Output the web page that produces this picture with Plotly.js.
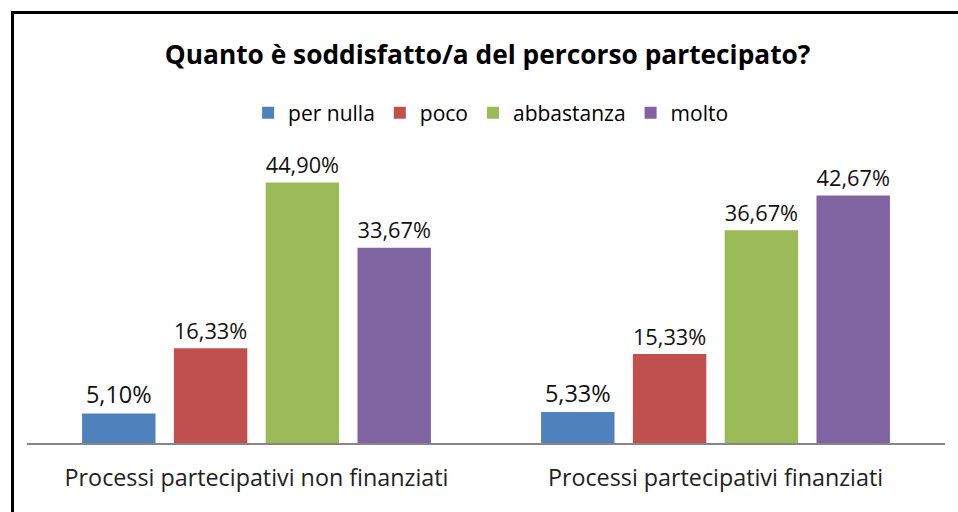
<!DOCTYPE html>
<html><head><meta charset="utf-8">
<script src="https://cdn.plot.ly/plotly-3.0.1.min.js"></script>
<style>
html,body{margin:0;padding:0;background:#fff;}
#wrap{position:absolute;left:0;top:0;width:958px;height:512px;overflow:hidden;}
#frame{position:absolute;left:11px;top:11px;width:1000px;height:600px;border-left:3px solid #000;border-top:3px solid #000;pointer-events:none;}
#chart{position:absolute;left:0;top:0;width:958px;height:512px;}
</style></head>
<body><div id="wrap"><div id="chart"></div><div id="frame"></div></div>
<script>
const categories = ["Processi partecipativi non finanziati", "Processi partecipativi finanziati"];
const seriesNames = ["per nulla", "poco", "abbastanza", "molto"];
const perNulla = [5.10, 5.33];
const poco = [16.33, 15.33];
const abbastanza = [44.90, 36.67];
const molto = [33.67, 42.67];
const colors = ["#4F81BD", "#C0504D", "#9BBB59", "#8064A2"];
const allValues = [perNulla, poco, abbastanza, molto];

const fmt = v => v.toFixed(2).replace('.', ',') + '%';
const FONT = "Open Sans, Liberation Sans, sans-serif";

const traces = allValues.map((vals, i) => ({
  type: 'bar',
  name: seriesNames[i],
  x: categories,
  y: vals,
  text: vals.map(fmt),
  textposition: 'outside',
  textfont: {family: FONT, size: 23.5, color: '#111'},
  cliponaxis: false,
  marker: {color: colors[i]},
  hoverinfo: 'none'
}));

const layout = {
  width: 958, height: 512,
  margin: {l: 27, r: 13, t: 153, b: 69},
  paper_bgcolor: '#fff', plot_bgcolor: '#fff',
  barmode: 'group', bargap: 0.2, bargroupgap: 0.2,
  showlegend: true,
  title: {text: '<b>Quanto è soddisfatto/a del percorso partecipato?</b>',
          font: {family: FONT, size: 26.3, color: '#000'},
          x: 0.509, xanchor: 'center', y: 0.893, yanchor: 'middle'},
  legend: {orientation: 'h', x: 0.505, xanchor: 'center', y: 1.138, yanchor: 'middle',
           font: {family: FONT, size: 21, color: '#000'}, itemwidth: 30, traceorder: 'normal'},
  xaxis: {showline: true, linecolor: '#868686', linewidth: 1.5, ticks: '',
          ticklabelstandoff: 14,
          tickfont: {family: FONT, size: 23.3, color: '#222'}, showgrid: false, fixedrange: true},
  yaxis: {range: [0, 50], visible: false, showgrid: false, zeroline: false, fixedrange: true}
};

Plotly.newPlot('chart', traces, layout, {displayModeBar: false, staticPlot: true});
</script></body></html>
